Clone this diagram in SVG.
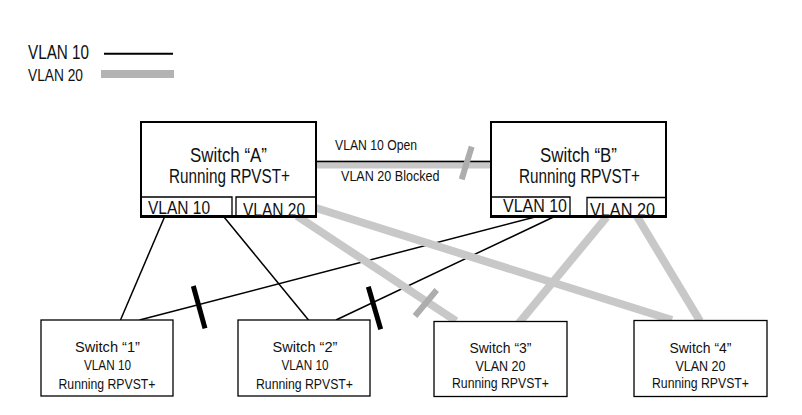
<svg xmlns="http://www.w3.org/2000/svg" width="802" height="415" viewBox="0 0 802 415">
<style>
text{font-family:"Liberation Sans",Arial,sans-serif;fill:#111}
.box{fill:#fff;stroke:#000;stroke-width:2}
.sbox{fill:#fff;stroke:#000;stroke-width:1.3}
.sub{fill:none;stroke:#000;stroke-width:1.3}
.bot{stroke:#000;stroke-width:3}
.v10{stroke:#000;stroke-width:1.5;fill:none}
.v20{stroke:#c8c8c8;stroke-width:8;fill:none}
.blk10{stroke:#000;stroke-width:5}
.blk20{stroke:#adadad;stroke-width:6}
.big{font-size:19.5px}
.sl{font-size:18px}
.mid{font-size:14px}
.bm{font-size:15px}
.c{text-anchor:middle}
</style>
<g id="legend">
<text x="28" y="59" style="font-size:19.5px" textLength="61" lengthAdjust="spacingAndGlyphs">VLAN 10</text>
<line x1="104" y1="53.7" x2="173" y2="53.7" stroke="#000" stroke-width="2"/>
<text x="28" y="80.5" style="font-size:16px" textLength="55" lengthAdjust="spacingAndGlyphs">VLAN 20</text>
<line x1="101" y1="74" x2="174" y2="74" stroke="#b3b3b3" stroke-width="8"/>
</g>
<g id="connectors">
<line class="v20" x1="316" y1="164.5" x2="491" y2="164.5"/>
<line class="v10" x1="316" y1="161.5" x2="491" y2="161.5"/>
<line class="blk20" x1="471.7" y1="146.7" x2="461.7" y2="179.3"/>
<line class="v10" x1="164.5" y1="217" x2="120.5" y2="320"/>
<line class="v10" x1="224" y1="217" x2="308.5" y2="320"/>
<line class="v10" x1="535" y1="217" x2="139.5" y2="320"/>
<line class="v10" x1="553.5" y1="217" x2="336" y2="320"/>
<line class="blk10" x1="193.3" y1="286" x2="205" y2="328.3"/>
<line class="blk10" x1="368.3" y1="286.7" x2="380.7" y2="329.3"/>
<line class="v20" x1="297" y1="216" x2="456" y2="321"/>
<line class="v20" x1="316" y1="208" x2="672" y2="320"/>
<line class="v20" x1="606.7" y1="217" x2="519" y2="323"/>
<line class="v20" x1="636.7" y1="216" x2="700" y2="321"/>
<line class="blk20" x1="436.7" y1="290" x2="415" y2="316"/>
</g>
<g id="switchA">
<rect class="box" x="141" y="122" width="175" height="95"/>
<polyline class="sub" points="141,197 232,197 232,216"/>
<polyline class="sub" points="316,197 236,197 236,216"/>
<line class="bot" x1="140" y1="216.5" x2="317" y2="216.5"/>
<text class="big c" x="228.5" y="161.7" textLength="77" lengthAdjust="spacingAndGlyphs">Switch “A”</text>
<text class="big c" x="229.5" y="183" textLength="121" lengthAdjust="spacingAndGlyphs">Running RPVST+</text>
<text class="sl" x="148" y="214" textLength="62" lengthAdjust="spacingAndGlyphs">VLAN 10</text>
<text class="sl" x="243" y="215.5" textLength="62" lengthAdjust="spacingAndGlyphs">VLAN 20</text>
</g>
<g id="switchB">
<rect class="box" x="491" y="122" width="175" height="95"/>
<polyline class="sub" points="491,197 570,197 570,216"/>
<polyline class="sub" points="666,197.5 587,197.5 587,216"/>
<line class="bot" x1="490" y1="216.5" x2="667" y2="216.5"/>
<text class="big c" x="578.5" y="161.7" textLength="77" lengthAdjust="spacingAndGlyphs">Switch “B”</text>
<text class="big c" x="579.5" y="183" textLength="121" lengthAdjust="spacingAndGlyphs">Running RPVST+</text>
<text class="sl" x="503" y="212" textLength="64" lengthAdjust="spacingAndGlyphs">VLAN 10</text>
<text class="sl" x="590" y="216" textLength="65" lengthAdjust="spacingAndGlyphs">VLAN 20</text>
</g>
<g id="labels">
<text class="mid" x="335" y="150" textLength="82" lengthAdjust="spacingAndGlyphs">VLAN 10 Open</text>
<text class="mid" x="341" y="181" textLength="98.5" lengthAdjust="spacingAndGlyphs">VLAN 20 Blocked</text>
</g>
<g id="switch1">
<rect class="sbox" x="41" y="320" width="132" height="76"/>
<text class="bm c" x="107.5" y="352" textLength="65" lengthAdjust="spacingAndGlyphs">Switch “1”</text>
<text class="bm c" x="107.5" y="370" textLength="47" lengthAdjust="spacingAndGlyphs">VLAN 10</text>
<text class="bm c" x="107" y="388.5" textLength="97" lengthAdjust="spacingAndGlyphs">Running RPVST+</text>
</g>
<g id="switch2">
<rect class="sbox" x="238" y="320" width="132" height="76"/>
<text class="bm c" x="305" y="352" textLength="65" lengthAdjust="spacingAndGlyphs">Switch “2”</text>
<text class="bm c" x="305" y="370" textLength="47" lengthAdjust="spacingAndGlyphs">VLAN 10</text>
<text class="bm c" x="304.5" y="388.5" textLength="97" lengthAdjust="spacingAndGlyphs">Running RPVST+</text>
</g>
<g id="switch3">
<rect class="sbox" x="434" y="321.5" width="133" height="75"/>
<text class="bm c" x="500.5" y="353.3" textLength="62" lengthAdjust="spacingAndGlyphs">Switch “3”</text>
<text class="bm c" x="500.5" y="370.7" textLength="50" lengthAdjust="spacingAndGlyphs">VLAN 20</text>
<text class="bm c" x="500.5" y="388.3" textLength="97" lengthAdjust="spacingAndGlyphs">Running RPVST+</text>
</g>
<g id="switch4">
<rect class="sbox" x="634" y="320.5" width="133" height="76"/>
<text class="bm c" x="700.5" y="353.3" textLength="62" lengthAdjust="spacingAndGlyphs">Switch “4”</text>
<text class="bm c" x="700.5" y="370.7" textLength="50" lengthAdjust="spacingAndGlyphs">VLAN 20</text>
<text class="bm c" x="700.5" y="388.3" textLength="97" lengthAdjust="spacingAndGlyphs">Running RPVST+</text>
</g>
</svg>
